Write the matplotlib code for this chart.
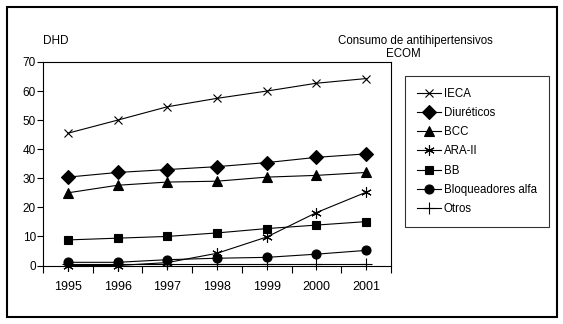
import matplotlib.pyplot as plt
from matplotlib.patches import Rectangle

plt.rcParams["font.family"] = ["Liberation Sans", "DejaVu Sans"]

years = ["1995", "1996", "1997", "1998", "1999", "2000", "2001"]
ieca = [45.5, 50, 54.6, 57.5, 60, 62.7, 64.3]
diureticos = [30.4, 32, 33, 34, 35.4, 37.2, 38.4]
bcc = [25, 27.6, 28.7, 29, 30.4, 31, 32]
ara2 = [0, 0, 1, 4.2, 9.8, 18.2, 25.2]
bb = [8.8, 9.4, 10, 11.2, 12.7, 13.9, 15.1]
alfa = [1.1, 1.1, 2, 2.5, 2.8, 3.9, 5.2]
otros = [0.5, 0.5, 0.5, 0.5, 0.5, 0.5, 0.5]

# nombre, valores, marcador, tamaño
series = [
    ("IECA", ieca, "x", 6),
    ("Diuréticos", diureticos, "D", 7),
    ("BCC", bcc, "^", 6.5),
    ("ARA-II", ara2, (6, 2, 0), 7.5),
    ("BB", bb, "s", 6),
    ("Bloqueadores alfa", alfa, "o", 6.5),
    ("Otros", otros, "+", 8),
]

W, H = 563, 324
fig = plt.figure(figsize=(W / 100, H / 100), dpi=100)
ax = fig.add_axes([43 / W, 1 - 265.5 / H, (391 - 43) / W, (265.5 - 62) / H])

x = list(range(len(years)))
for name, vals, mk, ms in series:
    ax.plot(x, vals, color="black", lw=0.8, marker=mk, markersize=ms,
            markeredgewidth=0.8, label=name, clip_on=False)

ax.set_xlim(-0.5, len(years) - 0.5)
ax.set_ylim(0, 70)
ax.set_yticks(range(0, 71, 10))
ax.set_xticks([i - 0.5 for i in range(len(years) + 1)])
ax.set_xticklabels([])
ax.set_xticks(x, minor=True)
ax.set_xticklabels(years, minor=True)
ax.tick_params(axis="x", which="major", direction="out", length=5, width=0.8)
ax.tick_params(axis="x", which="minor", length=0, pad=11, labelsize=9)
ax.tick_params(axis="y", direction="out", length=4, width=0.8, labelsize=8.5, pad=1)
for s in ax.spines.values():
    s.set_linewidth(0.8)

fig.text(43 / W, 1 - 41 / H, "DHD", fontsize=8.5, va="center")
fig.text(415 / W, 1 - 41 / H, "Consumo de antihipertensivos", fontsize=8.3,
         ha="center", va="center")
fig.text(403 / W, 1 - 54 / H, "ECOM", fontsize=8.3, ha="center", va="center")

leg = fig.legend(loc="upper left", bbox_to_anchor=(405 / W, 1 - 75.5 / H),
                 borderaxespad=0, fontsize=8.3, frameon=True, fancybox=False,
                 edgecolor="black", handlelength=2.1, labelspacing=0.63,
                 borderpad=1.05, handletextpad=0.2)
leg.get_frame().set_linewidth(0.8)

# marco exterior
fig.patches.append(Rectangle((7 / W, 7 / H), 550 / W, 310 / H,
                             transform=fig.transFigure, fill=False,
                             edgecolor="black", lw=1.5))

fig.savefig("out.png", dpi=100)
